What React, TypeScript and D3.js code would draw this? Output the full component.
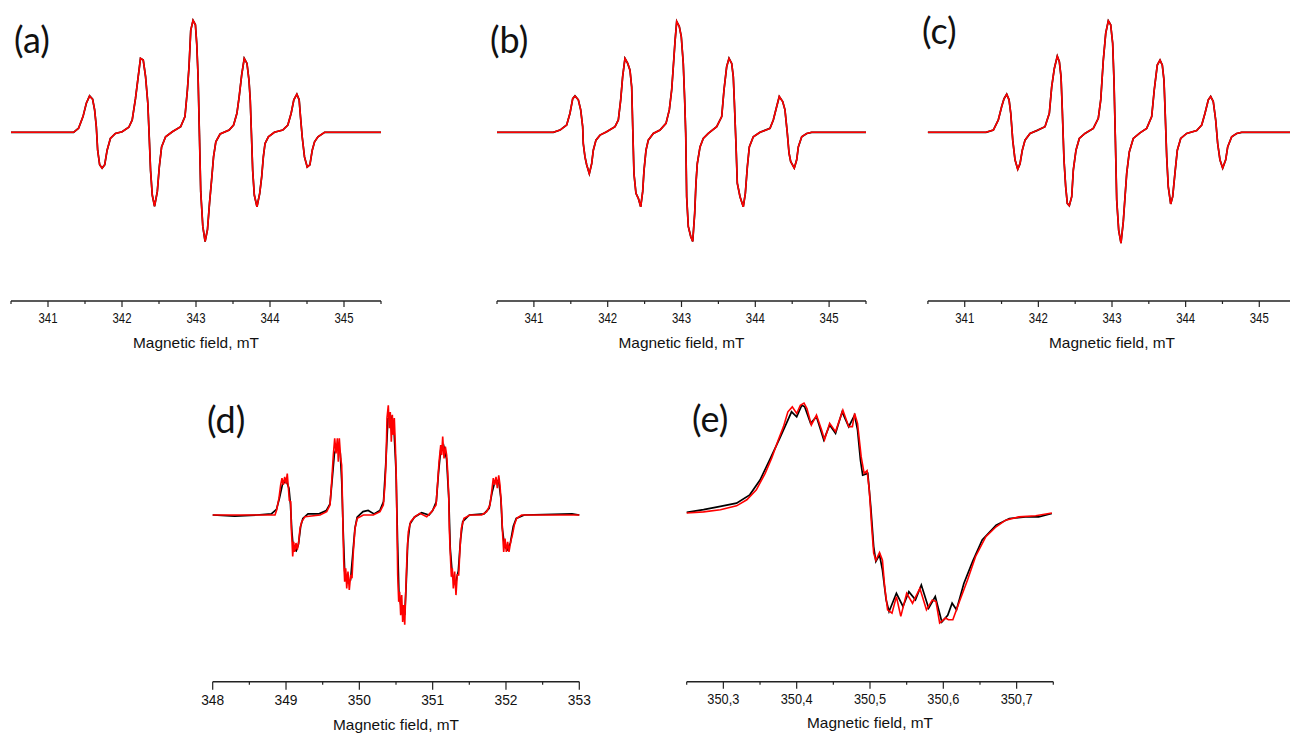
import React from 'react';
import * as d3 from 'd3';

type Pt = [number, number];

// [magnetic field in mT, signal in a.u.]; the signal is scaled so the central line is about ±1
const aRed: Pt[] = [
  [340.5, 0], [341.345, 0], [341.413, 0.036], [341.473, 0.14], [341.518, 0.26], [341.562, 0.325], [341.603, 0.295],
  [341.63, 0.2], [341.653, 0.05], [341.671, -0.16], [341.698, -0.29], [341.731, -0.32], [341.766, -0.29], [341.799, -0.16],
  [341.843, -0.055], [341.911, -0.01], [342.002, 0.005], [342.092, 0.045], [342.138, 0.11], [342.182, 0.3], [342.214, 0.47],
  [342.25, 0.66], [342.287, 0.645], [342.318, 0.5], [342.349, 0.26], [342.368, -0.04], [342.386, -0.34], [342.409, -0.56],
  [342.44, -0.66], [342.477, -0.53], [342.504, -0.31], [342.535, -0.13], [342.589, -0.04], [342.68, 0.005], [342.793, 0.05],
  [342.851, 0.14], [342.884, 0.38], [342.906, 0.59], [342.929, 0.91], [342.96, 1.0], [342.992, 0.96], [343.01, 0.79],
  [343.028, 0.5], [343.047, -0.04], [343.064, -0.53], [343.092, -0.84], [343.123, -0.975], [343.155, -0.87], [343.183, -0.63],
  [343.21, -0.43], [343.237, -0.22], [343.268, -0.085], [343.326, -0.015], [343.448, 0.02], [343.508, 0.065], [343.553, 0.17],
  [343.584, 0.32], [343.617, 0.51], [343.652, 0.66], [343.689, 0.615], [343.716, 0.465], [343.733, 0.29], [343.752, -0.07],
  [343.766, -0.34], [343.788, -0.56], [343.824, -0.665], [343.861, -0.545], [343.888, -0.395], [343.91, -0.22], [343.933, -0.1],
  [343.978, -0.04], [344.059, 0], [344.173, 0.02], [344.241, 0.065], [344.286, 0.17], [344.322, 0.29], [344.363, 0.34],
  [344.394, 0.29], [344.412, 0.14], [344.435, -0.04], [344.466, -0.22], [344.503, -0.31], [344.539, -0.29], [344.571, -0.16],
  [344.602, -0.085], [344.648, -0.04], [344.738, 0], [345.5, 0],
];

const bRed: Pt[] = [
  [340.5, 0], [341.263, 0], [341.354, 0.02], [341.444, 0.065], [341.489, 0.17], [341.526, 0.3], [341.557, 0.325],
  [341.602, 0.29], [341.634, 0.2], [341.661, 0.05], [341.669, -0.1], [341.692, -0.22], [341.715, -0.29], [341.751, -0.37],
  [341.783, -0.28], [341.805, -0.16], [341.841, -0.07], [341.896, -0.025], [341.986, 0.005], [342.099, 0.05], [342.144, 0.11],
  [342.176, 0.29], [342.203, 0.5], [342.234, 0.66], [342.271, 0.615], [342.302, 0.555], [342.325, 0.405], [342.339, 0.05],
  [342.356, -0.37], [342.383, -0.545], [342.415, -0.59], [342.447, -0.665], [342.474, -0.53], [342.492, -0.34], [342.519, -0.16],
  [342.55, -0.07], [342.618, -0.01], [342.709, 0.02], [342.79, 0.08], [342.835, 0.2], [342.867, 0.38], [342.889, 0.585],
  [342.912, 0.81], [342.935, 0.99], [342.97, 0.945], [342.997, 0.855], [343.024, 0.615], [343.043, 0.29], [343.057, -0.01],
  [343.07, -0.575], [343.092, -0.84], [343.125, -0.93], [343.152, -0.975], [343.179, -0.72], [343.196, -0.455], [343.214, -0.28],
  [343.251, -0.13], [343.295, -0.055], [343.363, -0.01], [343.477, 0.05], [343.545, 0.14], [343.576, 0.38], [343.612, 0.585],
  [343.644, 0.66], [343.68, 0.615], [343.702, 0.495], [343.715, 0.29], [343.738, -0.1], [343.756, -0.455], [343.793, -0.575],
  [343.837, -0.665], [343.865, -0.545], [343.892, -0.31], [343.919, -0.13], [343.973, -0.04], [344.064, 0], [344.199, 0.035],
  [344.244, 0.11], [344.29, 0.23], [344.325, 0.32], [344.371, 0.275], [344.402, 0.2], [344.434, -0.01], [344.457, -0.185],
  [344.479, -0.26], [344.528, -0.32], [344.561, -0.245], [344.583, -0.13], [344.629, -0.04], [344.697, -0.01], [344.764, 0],
  [345.5, 0],
];

const cRed: Pt[] = [
  [340.5, 0], [341.289, 0], [341.389, 0.02], [341.456, 0.11], [341.502, 0.23], [341.534, 0.3], [341.57, 0.34],
  [341.602, 0.29], [341.625, 0.17], [341.652, -0.07], [341.683, -0.245], [341.72, -0.33], [341.751, -0.28], [341.782, -0.16],
  [341.819, -0.07], [341.887, -0.01], [341.978, 0.015], [342.09, 0.05], [342.149, 0.17], [342.181, 0.405], [342.217, 0.57],
  [342.257, 0.68], [342.285, 0.63], [342.308, 0.495], [342.325, 0.2], [342.348, -0.245], [342.371, -0.485], [342.393, -0.635],
  [342.42, -0.655], [342.453, -0.575], [342.475, -0.335], [342.511, -0.16], [342.556, -0.055], [342.633, -0.01], [342.746, 0.035],
  [342.814, 0.125], [342.847, 0.29], [342.882, 0.645], [342.915, 0.885], [342.95, 0.995], [342.982, 0.96], [343.009, 0.795],
  [343.027, 0.465], [343.045, -0.04], [343.064, -0.605], [343.091, -0.875], [343.122, -0.99], [343.153, -0.8], [343.177, -0.575],
  [343.2, -0.365], [343.235, -0.175], [343.289, -0.055], [343.38, -0.005], [343.471, 0.035], [343.539, 0.14], [343.574, 0.38],
  [343.615, 0.6], [343.652, 0.645], [343.683, 0.6], [343.706, 0.465], [343.724, 0.14], [343.743, -0.22], [343.764, -0.485],
  [343.797, -0.64], [343.824, -0.575], [343.855, -0.365], [343.887, -0.16], [343.933, -0.055], [344.014, -0.01], [344.15, 0.015],
  [344.218, 0.065], [344.263, 0.17], [344.308, 0.29], [344.34, 0.32], [344.375, 0.275], [344.408, 0.11], [344.435, -0.1],
  [344.466, -0.245], [344.503, -0.32], [344.544, -0.245], [344.571, -0.13], [344.625, -0.04], [344.693, -0.01], [344.761, 0],
  [345.5, 0],
];

// in (a)-(c) the experimental trace sits under the simulation pixel for pixel
const aBlack = aRed;
const bBlack = bRed;
const cBlack = cRed;

const dRed: Pt[] = [
  [348.0, 0], [348.85, 0], [348.872, 0.045], [348.904, 0.15], [348.927, 0.27], [348.945, 0.33], [348.963, 0.27], [348.982, 0.34],
  [349.0, 0.28], [349.017, 0.37], [349.036, 0.21], [349.045, 0.13], [349.064, 0.12], [349.072, -0.12], [349.082, -0.24],
  [349.091, -0.37], [349.105, -0.24], [349.118, -0.33], [349.136, -0.25], [349.154, -0.31], [349.173, -0.24], [349.191, -0.12],
  [349.214, -0.06], [349.259, -0.015], [349.464, 0], [349.555, 0.03], [349.6, 0.09], [349.623, 0.3], [349.645, 0.535],
  [349.664, 0.685], [349.682, 0.55], [349.7, 0.685], [349.713, 0.475], [349.727, 0.685], [349.746, 0.505], [349.759, 0.445],
  [349.768, 0.18], [349.777, -0.12], [349.787, -0.415], [349.8, -0.595], [349.814, -0.475], [349.828, -0.655], [349.845, -0.505],
  [349.863, -0.67], [349.882, -0.535], [349.9, -0.565], [349.918, -0.33], [349.941, -0.12], [349.972, -0.03], [350.054, 0],
  [350.19, 0], [350.282, 0.03], [350.327, 0.09], [350.35, 0.27], [350.364, 0.475], [350.377, 0.865], [350.395, 0.98],
  [350.409, 0.775], [350.422, 0.92], [350.436, 0.655], [350.45, 0.895], [350.463, 0.715], [350.477, 0.865], [350.491, 0.625],
  [350.504, 0.33], [350.514, -0.12], [350.523, -0.535], [350.537, -0.775], [350.55, -0.685], [350.564, -0.895], [350.578, -0.715],
  [350.591, -0.955], [350.605, -0.805], [350.619, -0.98], [350.632, -0.715], [350.65, -0.355], [350.668, -0.15], [350.7, -0.06],
  [350.759, -0.015], [350.827, 0.015], [350.919, -0.015], [350.987, 0.03], [351.046, 0.09], [351.069, 0.3], [351.087, 0.475],
  [351.11, 0.625], [351.123, 0.535], [351.137, 0.7], [351.155, 0.505], [351.173, 0.61], [351.191, 0.535], [351.205, 0.385],
  [351.219, 0.18], [351.227, -0.12], [351.241, -0.355], [351.255, -0.55], [351.268, -0.475], [351.282, -0.655], [351.3, -0.505],
  [351.318, -0.715], [351.336, -0.535], [351.355, -0.535], [351.373, -0.3], [351.391, -0.12], [351.427, -0.03], [351.509, 0],
  [351.669, 0], [351.737, 0.03], [351.782, 0.09], [351.805, 0.21], [351.827, 0.33], [351.846, 0.27], [351.864, 0.34],
  [351.882, 0.24], [351.901, 0.355], [351.918, 0.27], [351.937, 0.09], [351.955, -0.18], [351.969, -0.33], [351.987, -0.21],
  [352.005, -0.33], [352.023, -0.24], [352.041, -0.33], [352.064, -0.24], [352.087, -0.18], [352.114, -0.09], [352.146, -0.03],
  [352.214, 0], [353.0, 0],
];

const dBlack: Pt[] = [
  [348.0, 0], [348.3, -0.01], [348.6, 0], [348.8, 0.01], [348.87, 0.05], [348.91, 0.15], [348.95, 0.27], [349.0, 0.31],
  [349.04, 0.24], [349.06, 0.1], [349.08, -0.15], [349.1, -0.3], [349.14, -0.32], [349.17, -0.26], [349.2, -0.1], [349.23, -0.03],
  [349.3, 0.01], [349.45, 0.01], [349.55, 0.04], [349.6, 0.1], [349.63, 0.32], [349.66, 0.55], [349.7, 0.62], [349.74, 0.55],
  [349.76, 0.3], [349.78, -0.15], [349.8, -0.5], [349.84, -0.6], [349.88, -0.58], [349.91, -0.35], [349.94, -0.12],
  [349.97, -0.02], [350.05, 0.03], [350.12, 0.04], [350.2, 0.01], [350.28, 0.04], [350.33, 0.12], [350.36, 0.45], [350.39, 0.86],
  [350.43, 0.88], [350.47, 0.8], [350.5, 0.4], [350.52, -0.2], [350.54, -0.7], [350.58, -0.86], [350.62, -0.88], [350.64, -0.6],
  [350.66, -0.25], [350.69, -0.08], [350.75, -0.02], [350.85, 0.02], [350.95, 0.0], [351.0, 0.04], [351.05, 0.12], [351.08, 0.38],
  [351.11, 0.58], [351.15, 0.62], [351.19, 0.5], [351.22, 0.15], [351.24, -0.3], [351.27, -0.55], [351.31, -0.62], [351.35, -0.5],
  [351.38, -0.22], [351.41, -0.06], [351.5, 0.0], [351.7, 0.01], [351.77, 0.06], [351.81, 0.2], [351.85, 0.3], [351.9, 0.31],
  [351.93, 0.15], [351.95, -0.12], [351.98, -0.28], [352.02, -0.31], [352.06, -0.25], [352.1, -0.1], [352.14, -0.03],
  [352.25, 0], [352.9, 0.01], [353.0, 0],
];

const eRed: Pt[] = [
  [350.25, 0], [350.273, 0.01], [350.296, 0.03], [350.318, 0.065], [350.332, 0.12], [350.345, 0.21], [350.357, 0.36],
  [350.366, 0.5], [350.375, 0.665], [350.382, 0.785], [350.388, 0.92], [350.394, 0.965], [350.4, 0.905], [350.405, 0.98],
  [350.41, 1.0], [350.414, 0.95], [350.42, 0.8], [350.427, 0.89], [350.434, 0.755], [350.438, 0.665], [350.445, 0.815],
  [350.453, 0.74], [350.463, 0.935], [350.471, 0.785], [350.476, 0.785], [350.479, 0.905], [350.483, 0.815], [350.488, 0.51],
  [350.492, 0.36], [350.496, 0.385], [350.499, 0.21], [350.502, -0.095], [350.505, -0.365], [350.508, -0.43], [350.513, -0.36],
  [350.517, -0.43], [350.52, -0.67], [350.524, -0.88], [350.53, -0.91], [350.536, -0.76], [350.542, -0.94], [350.55, -0.73],
  [350.558, -0.82], [350.568, -0.685], [350.577, -0.88], [350.585, -0.79], [350.59, -0.805], [350.595, -1.0], [350.603, -0.955],
  [350.607, -0.97], [350.613, -0.97], [350.622, -0.805], [350.633, -0.61], [350.644, -0.395], [350.658, -0.215],
  [350.672, -0.125], [350.685, -0.065], [350.703, -0.035], [350.726, -0.025], [350.748, 0],
];

const eBlack: Pt[] = [
  [350.25, 0.005], [350.273, 0.03], [350.296, 0.06], [350.318, 0.09], [350.336, 0.165], [350.35, 0.3], [350.363, 0.48],
  [350.377, 0.68], [350.386, 0.815], [350.393, 0.92], [350.4, 0.875], [350.407, 0.98], [350.411, 0.965], [350.419, 0.815],
  [350.427, 0.875], [350.437, 0.665], [350.445, 0.8], [350.453, 0.725], [350.462, 0.92], [350.471, 0.785], [350.479, 0.89],
  [350.483, 0.755], [350.487, 0.48], [350.49, 0.345], [350.497, 0.36], [350.501, 0.06], [350.505, -0.305], [350.508, -0.44],
  [350.513, -0.38], [350.517, -0.52], [350.522, -0.79], [350.526, -0.895], [350.536, -0.73], [350.545, -0.85], [350.553, -0.715],
  [350.562, -0.79], [350.57, -0.655], [350.58, -0.865], [350.589, -0.76], [350.598, -0.99], [350.606, -0.93], [350.612, -0.82],
  [350.618, -0.88], [350.628, -0.64], [350.64, -0.44], [350.653, -0.245], [350.672, -0.11], [350.69, -0.05], [350.712, -0.035],
  [350.73, -0.035], [350.748, -0.005],
];

// axis ticks
const abcTicks = [341, 342, 343, 344, 345];
const abcMinor = [340.5, 341.5, 342.5, 343.5, 344.5, 345.5];
const dTicks = [348, 349, 350, 351, 352, 353];
const dMinor = [348.5, 349.5, 350.5, 351.5, 352.5];
const eTicks = [350.3, 350.4, 350.5, 350.6, 350.7];
const eTickLabels = ['350,3', '350,4', '350,5', '350,6', '350,7'];
const eMinor = [350.25, 350.35, 350.45, 350.55, 350.65, 350.75];

const AXIS_TITLE = 'Magnetic field, mT';

const panels = [
  {
    id: 'a', red: aRed, black: aBlack, domain: [340.5, 345.5], x0: 11, x1: 381, baseY: 132.3, amp: 112,
    axisY: 301, majors: abcTicks, labels: abcTicks.map(String), minors: abcMinor,
    tickBase: 322.5, titleBase: 348, tickFont: 14, tickLen: 19, majorLen: 6,
    letter: '(a)', letterX: 14, letterY: 53,
  },
  {
    id: 'b', red: bRed, black: bBlack, domain: [340.5, 345.5], x0: 497, x1: 866, baseY: 132.3, amp: 112,
    axisY: 301, majors: abcTicks, labels: abcTicks.map(String), minors: abcMinor,
    tickBase: 322.5, titleBase: 348, tickFont: 14, tickLen: 19, majorLen: 6,
    letter: '(b)', letterX: 490, letterY: 53,
  },
  {
    id: 'c', red: cRed, black: cBlack, domain: [340.5, 345.5], x0: 927.9, x1: 1296.1, baseY: 132.3, amp: 112,
    axisY: 301, majors: abcTicks, labels: abcTicks.map(String), minors: abcMinor,
    tickBase: 322.5, titleBase: 348, tickFont: 14, tickLen: 19, majorLen: 6,
    letter: '(c)', letterX: 922, letterY: 44,
  },
  {
    id: 'd', red: dRed, black: dBlack, domain: [348, 353], x0: 212.7, x1: 579.3, baseY: 515, amp: 112,
    axisY: 681.7, majors: dTicks, labels: dTicks.map(String), minors: dMinor,
    tickBase: 705, titleBase: 730, tickFont: 15, tickLen: 23, majorLen: 8,
    letter: '(d)', letterX: 207, letterY: 433,
  },
  {
    id: 'e', red: eRed, black: eBlack, domain: [350.25, 350.75], x0: 686.7, x1: 1053.3, baseY: 513, amp: 110,
    axisY: 681.7, majors: eTicks, labels: eTickLabels, minors: eMinor,
    tickBase: 703.5, titleBase: 728, tickFont: 15, tickLen: 32, majorLen: 7,
    letter: '(e)', letterX: 692, letterY: 432,
  },
];

const Panel = ({ p }) => {
  const x = d3.scaleLinear().domain(p.domain).range([p.x0, p.x1]);
  const y = d3.scaleLinear().domain([-1, 1]).range([p.baseY + p.amp, p.baseY - p.amp]);
  const line = d3.line<Pt>().x((d) => x(d[0])).y((d) => y(d[1]));
  const cx = (p.x0 + p.x1) / 2;

  return (
    <g>
      <path d={line(p.black) || ''} fill="none" stroke="#000" strokeWidth={1.7} />
      <path d={line(p.red) || ''} fill="none" stroke="#ff0000" strokeWidth={1.6} />

      {/* bottom axis, ticks pointing down */}
      <line x1={p.x0} x2={p.x1} y1={p.axisY} y2={p.axisY} stroke="#222" strokeWidth={1.5} />
      {p.minors.map((t) => (
        <line key={'m' + t} x1={x(t)} x2={x(t)} y1={p.axisY} y2={p.axisY + 3} stroke="#222" strokeWidth={1.2} />
      ))}
      {p.majors.map((t, i) => (
        <g key={'t' + t}>
          <line x1={x(t)} x2={x(t)} y1={p.axisY} y2={p.axisY + p.majorLen} stroke="#222" strokeWidth={1.2} />
          <text
            x={x(t)}
            y={p.tickBase}
            textAnchor="middle"
            fontSize={p.tickFont}
            textLength={p.tickLen}
            lengthAdjust="spacingAndGlyphs"
            fill="#111"
          >
            {p.labels[i]}
          </text>
        </g>
      ))}
      <text
        x={cx}
        y={p.titleBase}
        textAnchor="middle"
        fontSize={15}
        textLength={126}
        lengthAdjust="spacingAndGlyphs"
        fill="#111"
      >
        {AXIS_TITLE}
      </text>

      <text x={p.letterX} y={p.letterY} fontFamily="Lato, 'Open Sans', sans-serif" fontSize={36} fill="#111">
        {p.letter}
      </text>
    </g>
  );
};

export default function App() {
  return (
    <svg
      width={1290}
      height={733}
      style={{ position: 'absolute', left: 0, top: 0, background: '#fff', overflow: 'hidden' }}
      fontFamily="'Liberation Sans', Arial, sans-serif"
    >
      {panels.map((p) => (
        <Panel key={p.id} p={p} />
      ))}
    </svg>
  );
}
